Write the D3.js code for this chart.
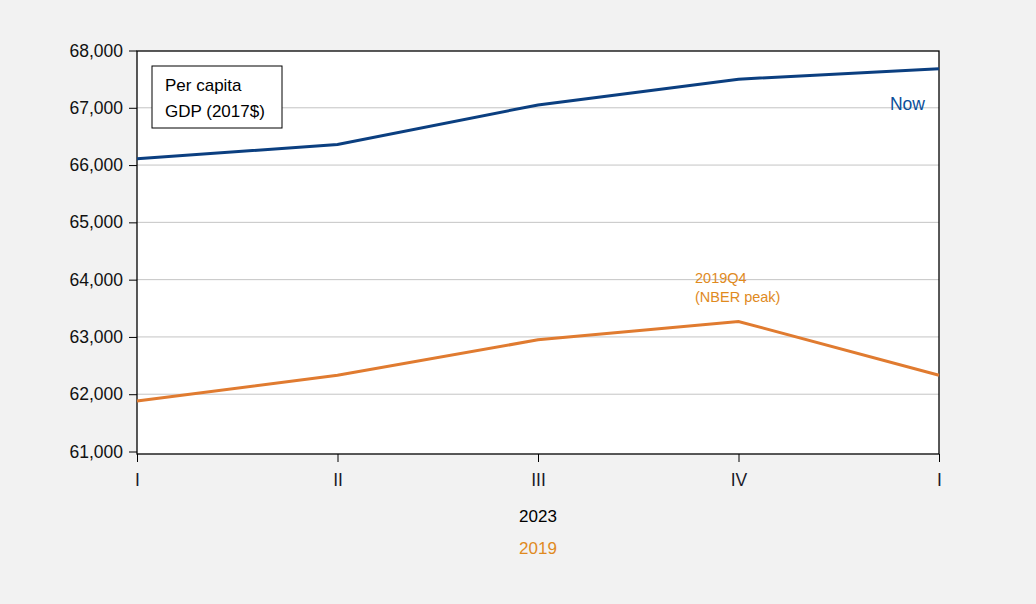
<!DOCTYPE html>
<html>
<head>
<meta charset="utf-8">
<script src="https://cdn.jsdelivr.net/npm/d3@7"></script>
<style>
  body { margin: 0; background: #f2f2f2; }
  svg { display: block; font-family: "Liberation Sans", Arial, sans-serif; }
</style>
</head>
<body>
<svg id="chart" width="1036" height="604"></svg>
<script>
// quarters shown on the x axis
var quarters = ["I", "II", "III", "IV", "I"];
// per capita GDP, 2017$, starting 2023Q1
var nowValues = [66110, 66360, 67050, 67500, 67680];
// per capita GDP, 2017$, starting 2019Q1
var y2019Values = [61880, 62330, 62950, 63270, 62330];
var yTicks = [61000, 62000, 63000, 64000, 65000, 66000, 67000, 68000];

var plotLeft = 137, plotRight = 939, plotTop = 51, plotBottom = 454;
var svg = d3.select("#chart");

var x = d3.scaleLinear().domain([0, quarters.length - 1]).range([plotLeft, plotRight]);
var y = d3.scaleLinear().domain([61000, 68000]).range([451.5, 50.5]);

svg.append("rect")
  .attr("x", plotLeft).attr("y", plotTop)
  .attr("width", plotRight - plotLeft).attr("height", plotBottom - plotTop)
  .attr("fill", "#fff");

// horizontal grid
svg.append("g")
  .selectAll("line")
  .data(yTicks.slice(1, -1))
  .enter()
  .append("line")
  .attr("x1", plotLeft).attr("x2", plotRight)
  .attr("y1", function(d) { return y(d); })
  .attr("y2", function(d) { return y(d); })
  .attr("stroke", "#c4c4c4")
  .attr("stroke-width", 1);

// y axis
var yAxis = svg.append("g")
  .attr("transform", "translate(" + plotLeft + ",0)")
  .call(d3.axisLeft(y).tickValues(yTicks).tickSize(8).tickPadding(6).tickFormat(d3.format(",")));
yAxis.select(".domain").remove();
yAxis.selectAll("line").attr("stroke", "#000");
yAxis.selectAll("text").attr("font-size", 17.5).attr("fill", "#111")
  .style("font-family", "'Liberation Sans', Arial, sans-serif");

// x axis
var xAxis = svg.append("g")
  .attr("transform", "translate(0," + plotBottom + ")")
  .call(d3.axisBottom(x).tickValues(d3.range(quarters.length))
    .tickSize(8).tickPadding(12)
    .tickFormat(function(d) { return quarters[d]; }));
xAxis.select(".domain").remove();
xAxis.selectAll("line").attr("stroke", "#000");
xAxis.selectAll("text").attr("font-size", 17.5).attr("fill", "#1a1a2a")
  .style("font-family", "'Liberation Sans', Arial, sans-serif");

// frame
svg.append("rect")
  .attr("x", plotLeft).attr("y", plotTop)
  .attr("width", plotRight - plotLeft).attr("height", plotBottom - plotTop)
  .attr("fill", "none").attr("stroke", "#000").attr("stroke-width", 1.3);

var line = d3.line()
  .x(function(d, i) { return x(i); })
  .y(function(d) { return y(d); });

svg.append("path")
  .datum(y2019Values)
  .attr("d", line)
  .attr("fill", "none")
  .attr("stroke", "#e07b30")
  .attr("stroke-width", 3);

svg.append("path")
  .datum(nowValues)
  .attr("d", line)
  .attr("fill", "none")
  .attr("stroke", "#0b3f80")
  .attr("stroke-width", 3);

// year labels
svg.append("text")
  .attr("x", x(2)).attr("y", 522)
  .attr("text-anchor", "middle").attr("font-size", 17).attr("fill", "#000")
  .text("2023");
svg.append("text")
  .attr("x", x(2)).attr("y", 554)
  .attr("text-anchor", "middle").attr("font-size", 17).attr("fill", "#e08a1e")
  .text("2019");

// annotations
svg.append("text")
  .attr("x", 925).attr("y", 110)
  .attr("text-anchor", "end").attr("font-size", 17.5).attr("fill", "#0b4f9a")
  .text("Now");
var peak = svg.append("text")
  .attr("font-size", 14.5).attr("fill", "#e08a1e");
peak.append("tspan").attr("x", 695).attr("y", 283).text("2019Q4");
peak.append("tspan").attr("x", 695).attr("dy", 19).text("(NBER peak)");

// legend box
svg.append("rect")
  .attr("x", 152).attr("y", 66)
  .attr("width", 130).attr("height", 62)
  .attr("fill", "#fff").attr("stroke", "#000").attr("stroke-width", 1);
var lg = svg.append("text").attr("font-size", 17).attr("fill", "#000");
lg.append("tspan").attr("x", 165).attr("y", 91).text("Per capita");
lg.append("tspan").attr("x", 165).attr("y", 117).text("GDP (2017$)");
</script>
</body>
</html>
